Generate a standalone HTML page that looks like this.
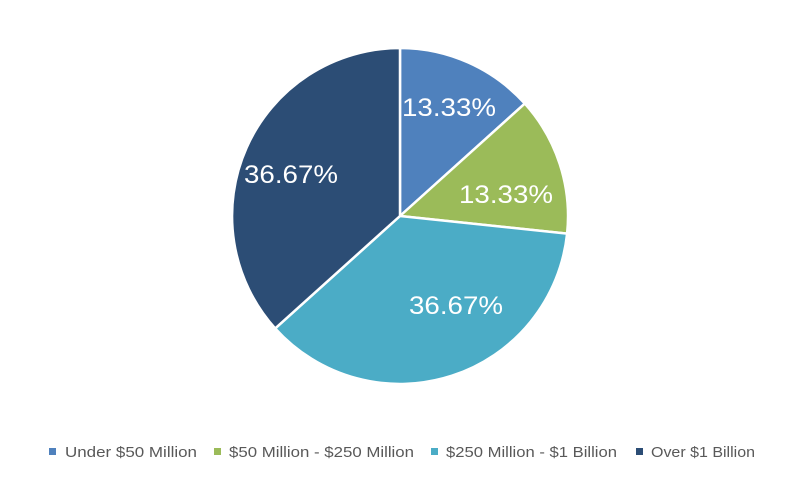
<!DOCTYPE html>
<html><head><meta charset="utf-8"><style>
html,body{margin:0;padding:0;background:#fff;width:803px;height:478px;overflow:hidden}
</style></head><body>
<svg width="803" height="478" viewBox="0 0 803 478" xmlns="http://www.w3.org/2000/svg">
<g stroke="#fff" stroke-width="2.5" stroke-linejoin="round">
<path d="M400,216 L400,48 A168,168 0 0 1 524.8,103.6 Z" fill="#4F81BD"/>
<path d="M400,216 L524.8,103.6 A168,168 0 0 1 567.1,233.6 Z" fill="#9BBB59"/>
<path d="M400,216 L567.1,233.6 A168,168 0 0 1 275.2,328.4 Z" fill="#4BACC6"/>
<path d="M400,216 L275.2,328.4 A168,168 0 0 1 400,48 Z" fill="#2C4D75"/>
</g>
<g font-family="Liberation Sans, sans-serif" font-size="25" fill="#fff" text-anchor="middle">
<text x="449" y="116" textLength="94" lengthAdjust="spacingAndGlyphs">13.33%</text>
<text x="506" y="203" textLength="94" lengthAdjust="spacingAndGlyphs">13.33%</text>
<text x="456" y="314" textLength="94" lengthAdjust="spacingAndGlyphs">36.67%</text>
<text x="291" y="183" textLength="94" lengthAdjust="spacingAndGlyphs">36.67%</text>
</g>
<rect x="49" y="448" width="7" height="7" fill="#4F81BD"/>
<rect x="214" y="448" width="7" height="7" fill="#9BBB59"/>
<rect x="431" y="448" width="7" height="7" fill="#4BACC6"/>
<rect x="636" y="448" width="7" height="7" fill="#2C4D75"/>
<g font-family="Liberation Sans, sans-serif" font-size="15" fill="#595959">
<text x="65" y="457" textLength="132" lengthAdjust="spacingAndGlyphs">Under $50 Million</text>
<text x="229" y="457" textLength="185" lengthAdjust="spacingAndGlyphs">$50 Million - $250 Million</text>
<text x="446" y="457" textLength="171" lengthAdjust="spacingAndGlyphs">$250 Million - $1 Billion</text>
<text x="651" y="457" textLength="104" lengthAdjust="spacingAndGlyphs">Over $1 Billion</text>
</g>
</svg>
</body></html>
